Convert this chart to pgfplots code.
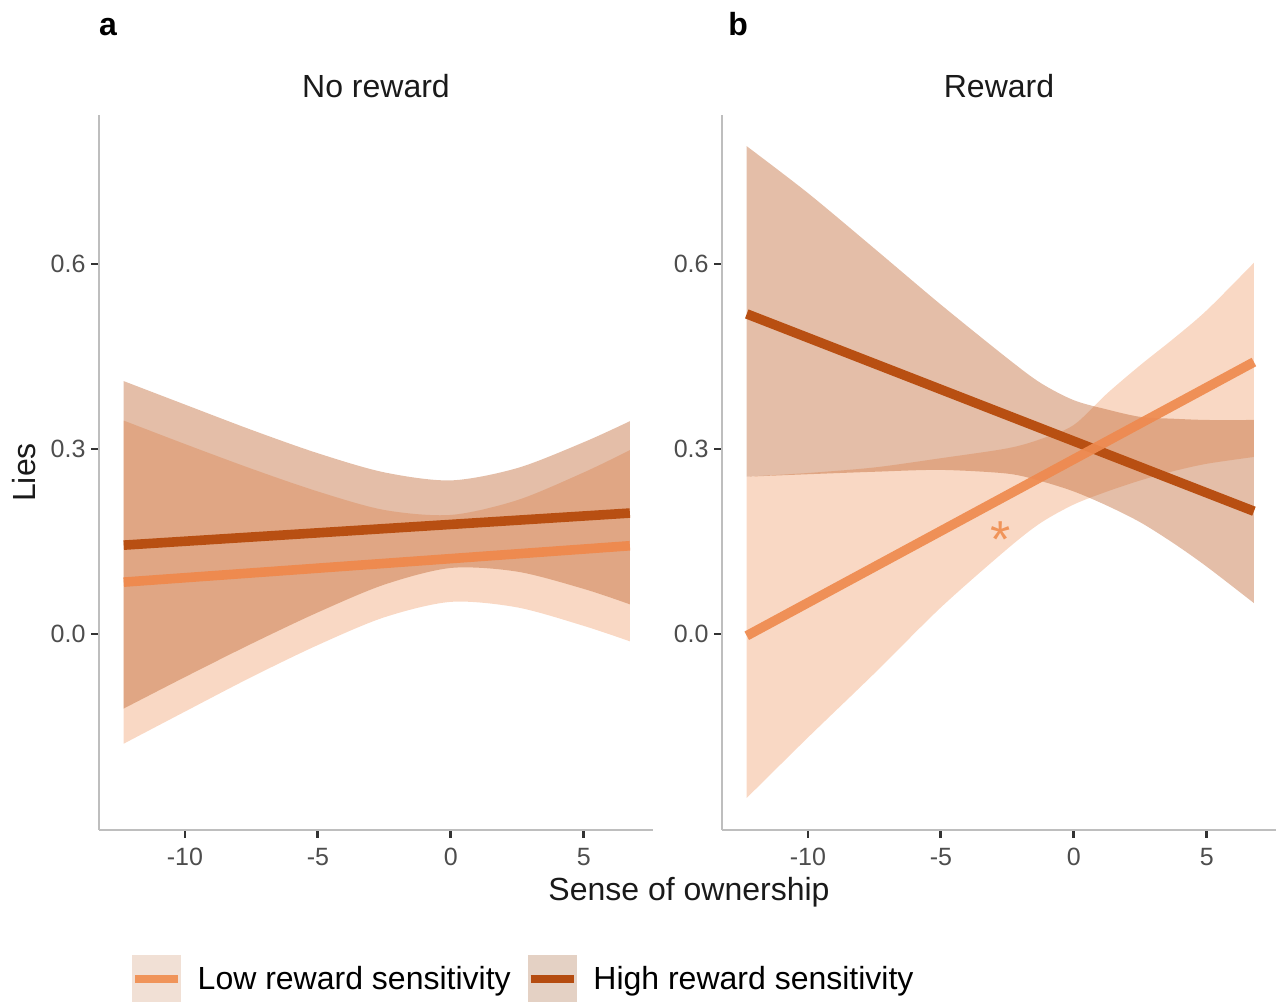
\documentclass[border=0pt]{standalone}
\usepackage{fontspec}
\setmainfont{Liberation Sans}
\usepackage{pgfplots}
\usepackage{pgfplotstable}
\pgfplotsset{compat=1.18}
\usepgfplotslibrary{fillbetween}

\definecolor{lowfill}{HTML}{F09E6B}
\definecolor{highfill}{HTML}{BB5C25}
\definecolor{lowline}{HTML}{EE8A4F}
\definecolor{highline}{HTML}{B84F12}
\definecolor{axgray}{HTML}{BEBEBE}
\definecolor{tickc}{HTML}{333333}
\definecolor{labc}{HTML}{4D4D4D}
\definecolor{lowkey}{HTML}{F1E0D5}
\definecolor{highkey}{HTML}{E4D1C4}
\definecolor{legLow}{HTML}{F0945A}
\definecolor{legHigh}{HTML}{B54C10}
\definecolor{txt}{HTML}{1A1A1A}

% Panel a: confidence bands (low: lu/ll, high: hu/hl)
\pgfplotstableread{
x lu ll hu hl
-12.3 0.346 -0.178 0.410 -0.121
-10 0.308 -0.126 0.372 -0.070
-7.5 0.268 -0.070 0.331 -0.016
-5 0.231 -0.018 0.293 0.035
-2.5 0.201 0.027 0.262 0.080
0 0.193 0.052 0.249 0.107
2.5 0.217 0.043 0.269 0.101
5 0.262 0.013 0.311 0.073
6.73 0.298 -0.012 0.345 0.048
}\bandA

% Panel b: confidence bands
\pgfplotstableread{
x lu ll hu hl
-12.3 0.255 -0.266 0.791 0.255
-10 0.261 -0.168 0.715 0.259
-7.5 0.270 -0.064 0.625 0.263
-5 0.285 0.043 0.534 0.266
-2.5 0.301 0.138 0.447 0.260
-1.25 0.316 0.180 0.407 0.248
0 0.339 0.210 0.379 0.231
1.25 0.390 0.231 0.364 0.208
2.5 0.436 0.249 0.352 0.181
3.75 0.479 0.264 0.349 0.147
5 0.525 0.276 0.347 0.109
6.77 0.602 0.287 0.347 0.050
}\bandB

\pgfplotsset{
  myax/.style={
    scale only axis, width=277pt, height=357.5pt,
    xmin=-13.23, xmax=7.6, ymin=-0.318, ymax=0.8416,
    axis x line*=bottom, axis y line*=left,
    axis line style={-, draw=axgray, line width=1.3pt},
    xtick={-10,-5,0,5}, ytick={0,0.3,0.6},
    tick align=outside, major tick length=3.8pt,
    every tick/.style={draw=tickc, line width=1.4pt},
    xtick style={draw=tickc, line width=1.4pt},
    ytick style={draw=tickc, line width=1.4pt},
    /pgf/number format/assume math mode=true,
    ticklabel style={font=\fontsize{12.5}{15}\selectfont, text=labc},
    yticklabel style={anchor=east, inner sep=0pt, xshift=-2.75pt,
      /pgf/number format/fixed, /pgf/number format/fixed zerofill,
      /pgf/number format/precision=1},
    xticklabel style={anchor=north, inner sep=0pt, yshift=-5pt},
    title style={at={(0.5,1)}, anchor=base, yshift=3pt,
      inner sep=0pt, font=\fontsize{16}{19}\selectfont, text=txt},
  },
  lowleg/.style={legend image code/.code={
    \fill[lowkey] (0pt,-12pt) rectangle (24pt,12pt);
    \draw[legLow, line width=4pt] (1.2pt,0pt) -- (22.8pt,0pt);}},
  highleg/.style={legend image code/.code={
    \fill[highkey] (0pt,-12pt) rectangle (24pt,12pt);
    \draw[legHigh, line width=4pt] (1.2pt,0pt) -- (22.8pt,0pt);}},
}

\begin{document}
\begin{tikzpicture}

% ---------------- Panel a ----------------
\begin{axis}[myax, at={(49.5pt,85.5pt)}, anchor=south west, title={No reward},
  legend columns=2,
  legend style={at={(0.0578,-0.2084)}, anchor=west,
    draw=none, fill=none, inner sep=0pt, outer sep=0pt,
    font=\fontsize{16}{19}\selectfont, text=black,
    /tikz/every odd column/.append style={column sep=5.75pt},
    /tikz/every even column/.append style={column sep=6pt}},
  legend cell align=left]
  \addplot[name path=aLU, draw=none, smooth, forget plot] table[x=x,y=lu]{\bandA};
  \addplot[name path=aLL, draw=none, smooth, forget plot] table[x=x,y=ll]{\bandA};
  \addplot[fill=lowfill, fill opacity=0.4, draw=none, forget plot] fill between[of=aLU and aLL];
  \addplot[name path=aHU, draw=none, smooth, forget plot] table[x=x,y=hu]{\bandA};
  \addplot[name path=aHL, draw=none, smooth, forget plot] table[x=x,y=hl]{\bandA};
  \addplot[fill=highfill, fill opacity=0.4, draw=none, forget plot] fill between[of=aHU and aHL];
  \addplot[lowline, line width=4.8pt, forget plot] coordinates {(-12.3,0.084) (6.73,0.143)};
  \addplot[highline, line width=4.8pt, forget plot] coordinates {(-12.3,0.144) (6.73,0.196)};
  \addlegendimage{lowleg}
  \addlegendentry{Low reward sensitivity}
  \addlegendimage{highleg}
  \addlegendentry{High reward sensitivity}
\end{axis}

% ---------------- Panel b ----------------
\begin{axis}[myax, at={(361pt,85.5pt)}, anchor=south west, title={Reward}]
  \addplot[name path=bLU, draw=none, smooth, forget plot] table[x=x,y=lu]{\bandB};
  \addplot[name path=bLL, draw=none, smooth, forget plot] table[x=x,y=ll]{\bandB};
  \addplot[fill=lowfill, fill opacity=0.4, draw=none, forget plot] fill between[of=bLU and bLL];
  \addplot[name path=bHU, draw=none, smooth, forget plot] table[x=x,y=hu]{\bandB};
  \addplot[name path=bHL, draw=none, smooth, forget plot] table[x=x,y=hl]{\bandB};
  \addplot[fill=highfill, fill opacity=0.4, draw=none, forget plot] fill between[of=bHU and bHL];
  \addplot[highline, line width=4.8pt, forget plot] coordinates {(-12.3,0.519) (6.77,0.199)};
  \addplot[lowline, line width=4.8pt, opacity=0.92, forget plot] coordinates {(-12.3,-0.003) (6.77,0.441)};
  \node[anchor=north, inner sep=0pt, text=legLow, font=\fontsize{26}{30}\selectfont] at (axis cs:-2.76,0.183) {*};
\end{axis}

\node[anchor=base west, inner sep=0pt, font=\bfseries\fontsize{16}{19}\selectfont, text=black] at (49.4pt,482.5pt) {a};
\node[anchor=base west, inner sep=0pt, font=\bfseries\fontsize{16}{19}\selectfont, text=black] at (364pt,482.5pt) {b};
\node[rotate=90, anchor=base, inner sep=0pt, font=\fontsize{16}{19}\selectfont, text=txt] at (17.9pt,264.25pt) {Lies};
\node[anchor=base, inner sep=0pt, font=\fontsize{16}{19}\selectfont, text=txt] at (344.5pt,50pt) {Sense of ownership};

\pgfresetboundingbox
\path[use as bounding box] (0pt,0pt) rectangle (639.5pt,500.5pt);
\end{tikzpicture}
\end{document}
